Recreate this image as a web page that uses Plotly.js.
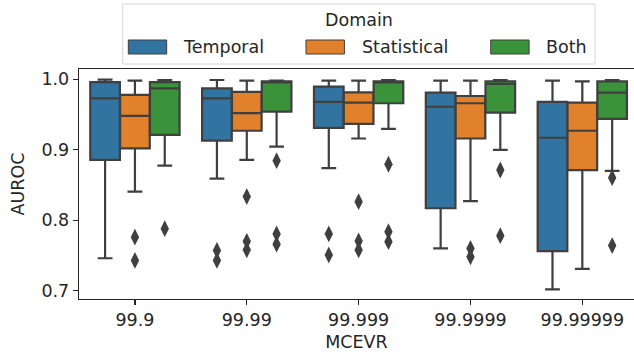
<!DOCTYPE html>
<html>
<head>
<meta charset="utf-8">
<script src="https://cdn.plot.ly/plotly-3.0.1.min.js"></script>
<style>html,body{margin:0;padding:0;background:#fff;}#chart{width:634px;height:359px;}</style>
</head>
<body>
<div id="chart"></div>
<script>
// ---- data ----
const categories = ['99.9', '99.99', '99.999', '99.9999', '99.99999'];
const seriesNames = ['Temporal', 'Statistical', 'Both'];

const temporalLower  = [0.746, 0.859, 0.874, 0.760, 0.702];
const temporalQ1     = [0.8855, 0.913, 0.931, 0.817, 0.756];
const temporalMedian = [0.973, 0.973, 0.968, 0.961, 0.917];
const temporalQ3     = [0.996, 0.987, 0.9895, 0.981, 0.968];
const temporalUpper  = [0.9995, 0.999, 0.998, 0.998, 0.998];
const temporalOutliers = [[], [0.757, 0.743], [0.7805, 0.7507], [], []];

const statisticalLower  = [0.8406, 0.8855, 0.916, 0.827, 0.731];
const statisticalQ1     = [0.902, 0.927, 0.9366, 0.916, 0.871];
const statisticalMedian = [0.948, 0.952, 0.967, 0.966, 0.927];
const statisticalQ3     = [0.978, 0.982, 0.9815, 0.9763, 0.967];
const statisticalUpper  = [0.998, 0.998, 0.998, 0.998, 0.997];
const statisticalOutliers = [[0.776, 0.743], [0.8335, 0.770, 0.758], [0.8263, 0.7705, 0.7578], [0.760, 0.748], []];

const bothLower  = [0.8775, 0.9044, 0.9295, 0.8997, 0.870];
const bothQ1     = [0.921, 0.954, 0.966, 0.9527, 0.9437];
const bothMedian = [0.987, 0.996, 0.996, 0.9933, 0.981];
const bothQ3     = [0.996, 0.997, 0.997, 0.997, 0.997];
const bothUpper  = [0.999, 0.998, 0.999, 0.999, 0.999];
const bothOutliers = [[0.788], [0.8845, 0.7805, 0.766], [0.8794, 0.7838, 0.7696], [0.8713, 0.778], [0.8604, 0.764]];

const yTicks = [0.7, 0.8, 0.9, 1.0];

// ---- style ----
const colors = ['#3274a1', '#e1812c', '#3a923a'];
const edge = '#3f3f3f';
const textColor = '#262626';
const FONT = 'DejaVu Sans';
const FS = 17.5;
const L = 79, T = 69, W = 555, H = 230;
const boxW = 0.265;
const offsets = [-0.2667, 0, 0.2667];

const stats = [
  [temporalLower, temporalQ1, temporalMedian, temporalQ3, temporalUpper, temporalOutliers],
  [statisticalLower, statisticalQ1, statisticalMedian, statisticalQ3, statisticalUpper, statisticalOutliers],
  [bothLower, bothQ1, bothMedian, bothQ3, bothUpper, bothOutliers]
];

const traces = [];
stats.forEach((s, k) => {
  const xs = categories.map((c, i) => i + offsets[k]);
  traces.push({
    type: 'box', name: seriesNames[k], x: xs,
    lowerfence: s[0], q1: s[1], median: s[2], q3: s[3], upperfence: s[4],
    width: boxW, whiskerwidth: 0.5,
    fillcolor: colors[k], line: {color: edge, width: 2.2},
    boxpoints: false, hoverinfo: 'skip', showlegend: false
  });
  const ox = [], oy = [];
  s[5].forEach((arr, i) => arr.forEach(v => { ox.push(i + offsets[k]); oy.push(v); }));
  traces.push({
    type: 'scatter', mode: 'markers', x: ox, y: oy,
    marker: {symbol: 'diamond-tall', size: 12, color: edge, line: {width: 0}},
    hoverinfo: 'skip', showlegend: false
  });
});

// legend drawn in paper coordinates
const px = v => (v - L) / W;
const py = v => (T + H - v) / H;
const shapes = [
  {type: 'rect', xref: 'paper', yref: 'paper', x0: px(122.7), x1: px(595), y0: py(64), y1: py(4),
   line: {color: '#d6d6d6', width: 1}, fillcolor: 'rgba(255,255,255,0.8)', layer: 'above'}
];
const patchX = [128.3, 306, 490.7];
const textX = [181, 360, 544.3];
const annotations = [
  {xref: 'paper', yref: 'paper', x: px(358.7), y: py(20), text: 'Domain', showarrow: false,
   xanchor: 'center', yanchor: 'middle', font: {family: FONT, size: FS, color: textColor}}
];
seriesNames.forEach((n, k) => {
  shapes.push({type: 'rect', xref: 'paper', yref: 'paper', x0: px(patchX[k]), x1: px(patchX[k] + 38.4),
    y0: py(54), y1: py(40), line: {color: edge, width: 1}, fillcolor: colors[k], layer: 'above'});
  annotations.push({xref: 'paper', yref: 'paper', x: px(textX[k]), y: py(46.7), text: n, showarrow: false,
    xanchor: 'left', yanchor: 'middle', font: {family: FONT, size: FS, color: textColor}});
});

const layout = {
  width: 634, height: 359,
  margin: {l: L, r: 634 - L - W, t: T, b: 359 - T - H, pad: 0},
  paper_bgcolor: '#fff', plot_bgcolor: '#fff',
  font: {family: FONT, size: FS, color: textColor},
  showlegend: false,
  boxmode: 'overlay',
  xaxis: {
    range: [-0.5, 4.462], tickmode: 'array', tickvals: categories.map((c, i) => i), ticktext: categories,
    showline: true, mirror: true, linecolor: textColor, linewidth: 1.25,
    ticks: 'outside', ticklen: 5, tickwidth: 1.25, tickcolor: textColor,
    showgrid: false, zeroline: false,
    title: {text: 'MCEVR', standoff: 6, font: {family: FONT, size: FS, color: textColor}},
    tickfont: {family: FONT, size: FS, color: textColor}
  },
  yaxis: {
    range: [0.6882, 1.0146], tickmode: 'array', tickvals: yTicks, tickformat: '.1f',
    showline: true, linecolor: textColor, linewidth: 1.25,
    ticks: 'outside', ticklen: 5, tickwidth: 1.25, tickcolor: textColor,
    showgrid: false, zeroline: false,
    title: {text: 'AUROC', standoff: 12, font: {family: FONT, size: FS, color: textColor}},
    tickfont: {family: FONT, size: FS, color: textColor}
  },
  shapes: shapes,
  annotations: annotations
};

Plotly.newPlot('chart', traces, layout, {displayModeBar: false, staticPlot: true});
</script>
</body>
</html>
